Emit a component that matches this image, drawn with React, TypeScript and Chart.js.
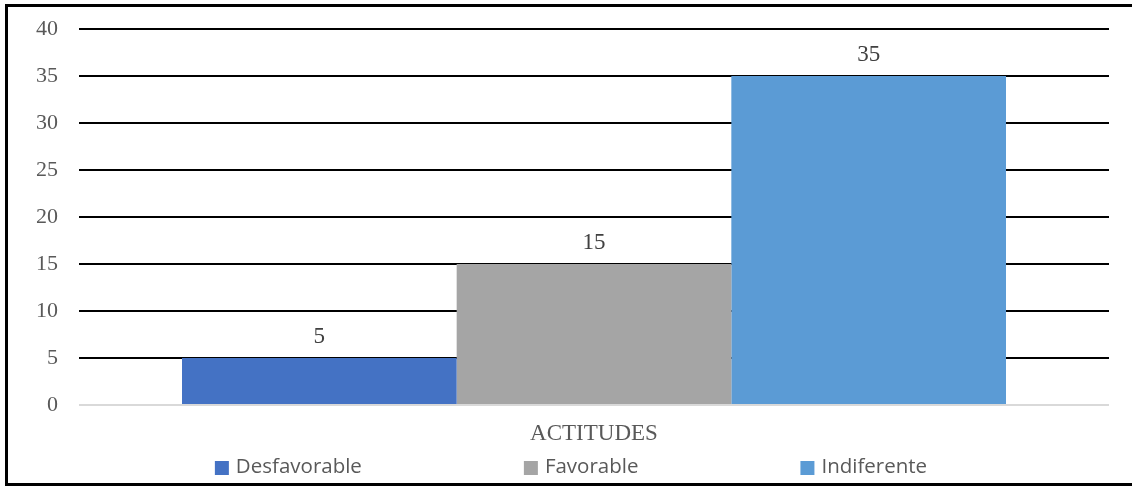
import React, { useEffect, useRef } from "react";
import { Chart, registerables } from "chart.js";

Chart.register(...registerables);

const categories = ["ACTITUDES"];
const seriesNames = ["Desfavorable", "Favorable", "Indiferente"];
const seriesValues = [[5], [15], [35]];
const seriesColors = ["#4472C4", "#A5A5A5", "#5B9BD5"];
const yTicks = [0, 5, 10, 15, 20, 25, 30, 35, 40];

const SERIF = "'Liberation Serif', 'Times New Roman', serif";
const SANS = "'Open Sans', 'Noto Sans', sans-serif";

const dataLabelPlugin = {
  id: "dataLabels",
  afterDatasetsDraw(chart: any) {
    const ctx = chart.ctx;
    ctx.save();
    ctx.font = `23px ${SERIF}`;
    ctx.fillStyle = "#404040";
    ctx.textAlign = "center";
    ctx.textBaseline = "alphabetic";
    chart.data.datasets.forEach((ds: any, i: number) => {
      const meta = chart.getDatasetMeta(i);
      meta.data.forEach((bar: any, j: number) => {
        ctx.fillText(String(ds.data[j]), bar.x, bar.y - 15);
      });
    });
    ctx.restore();
  },
};

const customLegendPlugin = {
  id: "customLegend",
  afterDraw(chart: any) {
    const ctx = chart.ctx;
    ctx.save();
    ctx.font = `20.5px ${SANS}`;
    ctx.textBaseline = "middle";
    ctx.textAlign = "left";
    const box = 14;
    const gap = 7;
    const spacing = 162;
    const items = chart.data.datasets.map((ds: any) => ({
      text: ds.label,
      color: ds.backgroundColor,
      w: box + gap + ctx.measureText(ds.label).width,
    }));
    const total =
      items.reduce((s: number, it: any) => s + it.w, 0) + spacing * (items.length - 1);
    let x = 571 - total / 2;
    const yc = 467;
    items.forEach((it: any) => {
      ctx.fillStyle = it.color;
      ctx.fillRect(x, yc - box / 2 + 1, box, box);
      ctx.fillStyle = "#595959";
      ctx.fillText(it.text, x + box + gap, yc);
      x += it.w + spacing;
    });
    ctx.restore();
  },
};

export default function App() {
  const canvasRef = useRef<HTMLCanvasElement | null>(null);

  useEffect(() => {
    if (!canvasRef.current) return;
    const chart = new Chart(canvasRef.current, {
      type: "bar",
      data: {
        labels: categories,
        datasets: seriesNames.map((name, i) => ({
          label: name,
          data: seriesValues[i],
          backgroundColor: seriesColors[i],
          borderWidth: 0,
          categoryPercentage: 0.8,
          barPercentage: 1.0,
        })),
      },
      options: {
        animation: false,
        responsive: false,
        maintainAspectRatio: false,
        layout: { padding: { top: 29, right: 23, bottom: 36, left: 0 } },
        plugins: {
          legend: { display: false },
          tooltip: { enabled: false },
        },
        scales: {
          x: {
            grid: { display: false, drawTicks: false },
            border: { display: false },
            ticks: {
              color: "#595959",
              font: { family: SERIF, size: 23 },
              padding: 15,
            },
            afterFit: (scale: any) => {
              scale.height = 45;
            },
          },
          y: {
            min: 0,
            max: 40,
            afterBuildTicks: (scale: any) => {
              scale.ticks = yTicks.map((v) => ({ value: v }));
            },
            grid: {
              drawTicks: false,
              lineWidth: 2,
              color: (c: any) => (c.tick && c.tick.value === 0 ? "#d9d9d9" : "#000000"),
            },
            border: { display: false },
            ticks: {
              color: "#595959",
              font: { family: SERIF, size: 22 },
              padding: 21,
            },
            afterFit: (scale: any) => {
              scale.width = 79;
              scale.paddingTop = 12;
              scale.paddingBottom = 12;
            },
          },
        },
      },
      plugins: [dataLabelPlugin, customLegendPlugin],
    });
    return () => chart.destroy();
  }, []);

  return (
    <div
      style={{
        position: "fixed",
        left: 0,
        top: 0,
        width: 1132,
        height: 486,
        background: "#fff",
        overflow: "hidden",
      }}
    >
      <canvas
        ref={canvasRef}
        width={1132}
        height={486}
        style={{ position: "absolute", left: 0, top: 0, width: 1132, height: 486 }}
      />
      <div
        style={{
          position: "absolute",
          left: 5,
          top: 4,
          width: 1140,
          height: 476,
          border: "3px solid #000",
          pointerEvents: "none",
        }}
      />
    </div>
  );
}
